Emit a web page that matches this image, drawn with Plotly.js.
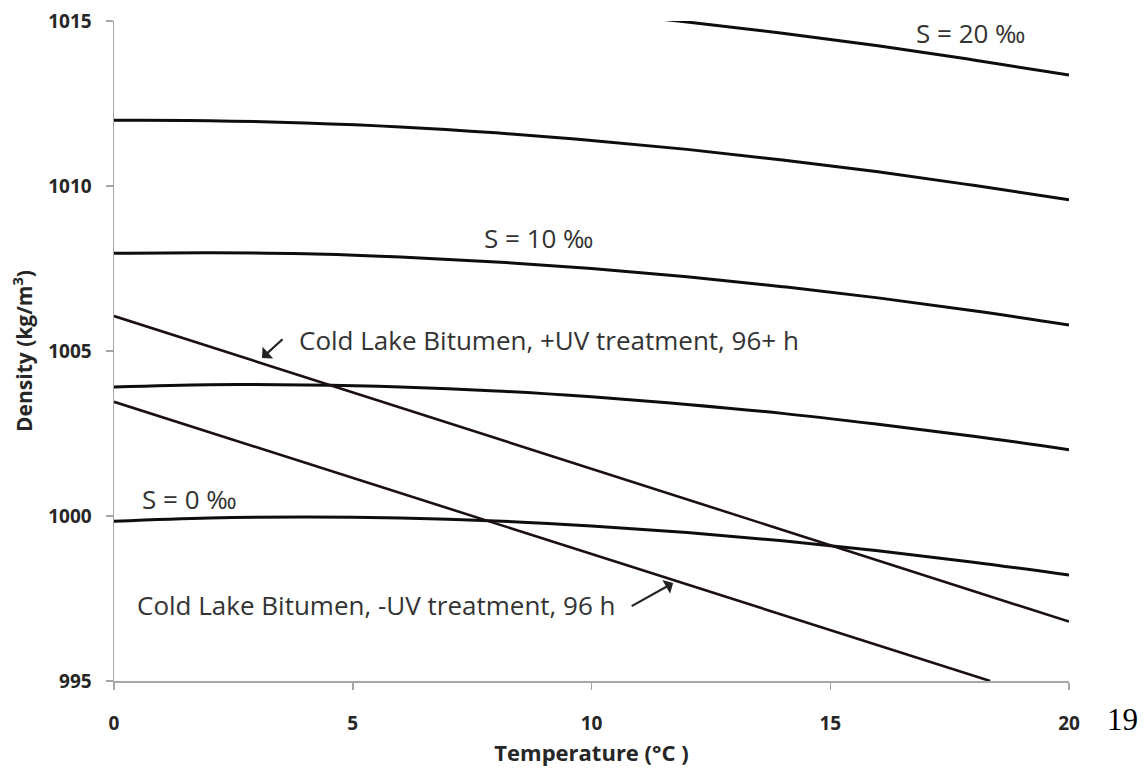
<!DOCTYPE html>
<html>
<head>
<meta charset="utf-8">
<script src="https://cdn.plot.ly/plotly-3.0.1.min.js"></script>
<style>html,body{margin:0;padding:0;background:#fff;}#chart{width:1144px;height:774px;}</style>
</head>
<body>
<div id="chart"></div>
<script>
// Temperatures (°C) for the salinity curves
const temps = [0, 2, 4, 6, 8, 10, 12, 14, 16, 18, 20];
// Seawater density (kg/m³)
const densS0  = [999.84, 999.94, 999.97, 999.94, 999.85, 999.70, 999.50, 999.25, 998.95, 998.60, 998.21];
const densS5  = [1003.91, 1003.98, 1003.97, 1003.91, 1003.79, 1003.61, 1003.38, 1003.11, 1002.78, 1002.42, 1002.01];
const densS10 = [1007.96, 1007.98, 1007.95, 1007.85, 1007.70, 1007.50, 1007.25, 1006.95, 1006.61, 1006.22, 1005.79];
const densS15 = [1011.99, 1011.98, 1011.91, 1011.79, 1011.61, 1011.38, 1011.11, 1010.79, 1010.43, 1010.02, 1009.58];
const tempsS20 = [10, 12, 14, 16, 18, 20];
const densS20  = [1015.27, 1014.97, 1014.63, 1014.25, 1013.82, 1013.36];
// Cold Lake Bitumen straight lines
const tempsPlusUV = [0, 20];
const densPlusUV  = [1006.06, 996.80];
const tempsMinusUV = [0, 18.35];
const densMinusUV  = [1003.46, 995.00];

const xTicks = [0, 5, 10, 15, 20];
const yTicks = [995, 1000, 1005, 1010, 1015];

const labelFont = {family: 'Open Sans, sans-serif', size: 26, color: '#333333'};
const salLine = {color: '#0d0d0d', width: 3, shape: 'spline'};
const bitLine = {color: '#1a1010', width: 2.6};

const traces = [
  {x: temps, y: densS0, mode: 'lines', line: salLine, name: 'S = 0 ‰'},
  {x: temps, y: densS5, mode: 'lines', line: salLine, name: 'S = 5 ‰'},
  {x: temps, y: densS10, mode: 'lines', line: salLine, name: 'S = 10 ‰'},
  {x: temps, y: densS15, mode: 'lines', line: salLine, name: 'S = 15 ‰'},
  {x: tempsS20, y: densS20, mode: 'lines', line: salLine, name: 'S = 20 ‰'},
  {x: tempsPlusUV, y: densPlusUV, mode: 'lines', line: bitLine, name: '+UV'},
  {x: tempsMinusUV, y: densMinusUV, mode: 'lines', line: bitLine, name: '-UV'}
];

const layout = {
  width: 1144, height: 774,
  margin: {l: 114, r: 75, t: 21, b: 93},
  paper_bgcolor: '#ffffff', plot_bgcolor: '#ffffff',
  showlegend: false,
  font: {family: 'Open Sans, sans-serif', color: '#222'},
  xaxis: {
    range: [0, 20], tickvals: xTicks, ticktext: xTicks.map(String),
    showgrid: false, zeroline: false, showline: true, linecolor: '#a6a6a6', linewidth: 1.5,
    ticks: 'outside', ticklen: 7, tickcolor: '#a6a6a6', tickwidth: 1.5,
    ticklabelstandoff: 18,
    tickfont: {family: 'Open Sans, sans-serif', size: 19, color: '#262626', weight: 'bold'},
    title: {text: '<b>Temperature (°C )</b>', font: {family: 'Open Sans, sans-serif', size: 22, color: '#262626'}, standoff: 10}
  },
  yaxis: {
    range: [995, 1015], tickvals: yTicks, ticktext: yTicks.map(String),
    showgrid: false, zeroline: false, showline: true, linecolor: '#a6a6a6', linewidth: 1.5,
    ticks: 'outside', ticklen: 7, tickcolor: '#a6a6a6', tickwidth: 1.5,
    ticklabelstandoff: 10,
    tickfont: {family: 'Open Sans, sans-serif', size: 19, color: '#262626', weight: 'bold'},
    title: {text: '<b>Density (kg/m<sup>3</sup>)</b>', font: {family: 'Open Sans, sans-serif', size: 21, color: '#262626'}, standoff: 10}
  },
  annotations: [
    {x: 17.95, y: 1014.64, xref: 'x', yref: 'y', text: 'S = 20 ‰', showarrow: false, font: labelFont},
    {x: 8.9, y: 1008.42, xref: 'x', yref: 'y', text: 'S = 10 ‰', showarrow: false, font: labelFont},
    {x: 1.59, y: 1000.52, xref: 'x', yref: 'y', text: 'S = 0 ‰', showarrow: false, font: labelFont},
    {x: 3.83, y: 1005.33, xref: 'x', yref: 'y', xanchor: 'left', text: 'Cold Lake Bitumen, +UV treatment, 96+ h', showarrow: false, font: labelFont},
    {x: 3.10, y: 1004.79, xref: 'x', yref: 'y', text: '', showarrow: true, ax: 22, ay: -20, arrowhead: 1, arrowsize: 1.2, arrowwidth: 2.2, arrowcolor: '#222', standoff: 0},
    {x: 10.55, y: 997.3, xref: 'x', yref: 'y', xanchor: 'right', text: 'Cold Lake Bitumen, -UV treatment, 96 h', showarrow: false, font: labelFont},
    {x: 11.71, y: 997.97, xref: 'x', yref: 'y', text: '', showarrow: true, ax: -43, ay: 24, arrowhead: 1, arrowsize: 1.2, arrowwidth: 2.2, arrowcolor: '#222', standoff: 0},
    {x: 1.0377, y: -0.059, xref: 'paper', yref: 'paper', xanchor: 'left', yanchor: 'middle', text: '19', showarrow: false, font: {family: 'Liberation Serif, serif', size: 31, color: '#000'}}
  ]
};

Plotly.newPlot('chart', traces, layout, {displayModeBar: false, staticPlot: true});
</script>
</body>
</html>
